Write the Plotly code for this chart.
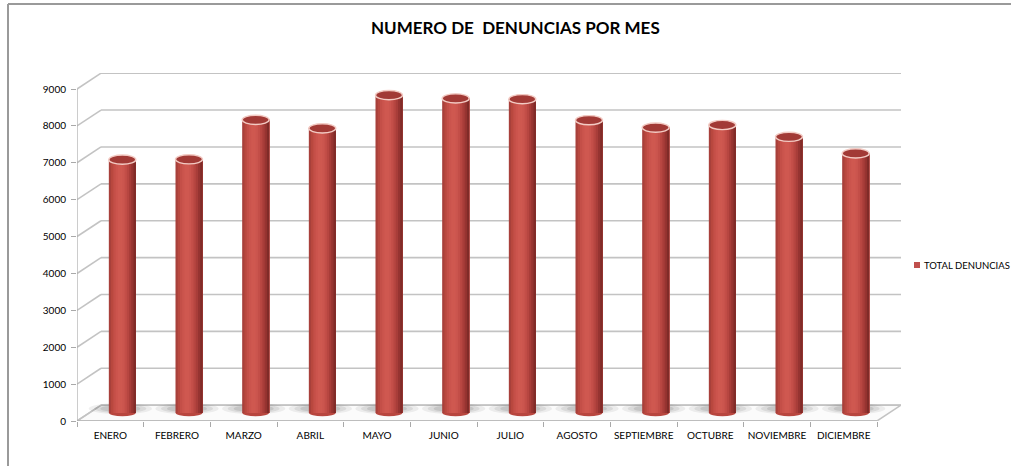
import plotly.graph_objects as go

# ---- data -------------------------------------------------------------
MESES = ["ENERO", "FEBRERO", "MARZO", "ABRIL", "MAYO", "JUNIO", "JULIO",
         "AGOSTO", "SEPTIEMBRE", "OCTUBRE", "NOVIEMBRE", "DICIEMBRE"]
TOTAL_DENUNCIAS = [6870, 6880, 7950, 7720, 8620, 8530, 8510,
                   7940, 7740, 7810, 7490, 7040]
Y_TICKS = [0, 1000, 2000, 3000, 4000, 5000, 6000, 7000, 8000, 9000]
SERIE = "TOTAL DENUNCIAS"
TITULO = "NUMERO DE\u00a0 DENUNCIAS POR MES"

# ---- page geometry ----------------------------------------------------
W, H = 1011, 466
ML, MR, MT, MB = 77, 110, 73, 45
PW, PH = W - ML - MR, H - MT - MB

# oblique depth of the pseudo-3D box (category units / value units)
DX = 0.36
DY = 430
BAR_W = 0.405          # cylinder diameter in category units

X_RANGE = [-0.5, len(MESES) - 0.5 + DX]
Y_RANGE = [0, 9000 + DY + 5]

GRID = "#c3c3c3"
FONT = "Lato, Carlito, Calibri, sans-serif"


def xp(px):
    return (px - ML) / PW


def yp(py):
    return (H - MB - py) / PH


# shades across the cylinder, left edge -> right edge
SHADES = ["#a8403b", "#b9483f", "#c44f48", "#cb544d", "#cf5850", "#cf5850",
          "#cb554e", "#c34e48", "#b74641", "#a83d39", "#963431", "#802b28"]

fig = go.Figure()

xs = list(range(len(MESES)))
n = len(SHADES)
sw = BAR_W / n
# each band starts further right and runs to the cylinder's right edge,
# so later bands cover earlier ones without leaving seams
for k in range(n):
    fig.add_trace(go.Bar(
        x=xs, y=TOTAL_DENUNCIAS, base=DY / 2,
        offset=DX / 2 - BAR_W / 2 + k * sw, width=BAR_W - k * sw,
        marker=dict(color=SHADES[k], line=dict(width=0)),
        name=SERIE, showlegend=False, hoverinfo="skip" if k != 5 else None,
    ))

shapes = []

# floor of the box
x0, x1 = X_RANGE[0], len(MESES) - 0.5
shapes.append(dict(
    type="path", xref="x", yref="y", layer="below",
    path=f"M {x0},0 L {x1},0 L {x1 + DX},{DY} L {x0 + DX},{DY} Z",
    fillcolor="#fbfbfb", line=dict(color=GRID, width=1.5)))

# back-wall gridlines and left-wall diagonals
for v in Y_TICKS:
    shapes.append(dict(type="line", xref="x", yref="y", layer="below",
                       x0=x0 + DX, x1=x1 + DX, y0=v + DY, y1=v + DY,
                       line=dict(color=GRID, width=1.6)))
    shapes.append(dict(type="line", xref="x", yref="y", layer="below",
                       x0=x0, x1=x0 + DX, y0=v, y1=v + DY,
                       line=dict(color=GRID, width=1.6)))

# soft shadows on the floor
for i in xs:
    cx = i + DX / 2 - 0.03
    cy = DY / 2 + 120
    for wdt, hgt, op in [(0.95, 300, 0.08), (0.78, 240, 0.10), (0.6, 180, 0.13)]:
        shapes.append(dict(type="circle", xref="x", yref="y", layer="below",
                           x0=cx - wdt / 2, x1=cx + wdt / 2,
                           y0=cy - hgt / 2, y1=cy + hgt / 2,
                           fillcolor=f"rgba(60,60,60,{op})", line=dict(width=0)))

# rounded bottoms of the cylinders
for i in xs:
    cx = i + DX / 2
    shapes.append(dict(type="circle", xref="x", yref="y", layer="between",
                       x0=cx - BAR_W / 2 + 0.004, x1=cx + BAR_W / 2 - 0.004,
                       y0=DY / 2 - 85, y1=DY / 2 + 85,
                       fillcolor="#b8463f", line=dict(width=0)))

# elliptical tops
for i, v in zip(xs, TOTAL_DENUNCIAS):
    cx = i + DX / 2
    top = v + DY / 2
    shapes.append(dict(type="circle", xref="x", yref="y", layer="above",
                       x0=cx - BAR_W / 2, x1=cx + BAR_W / 2,
                       y0=top - 125, y1=top + 125,
                       fillcolor="#a23a36", line=dict(color="#f3cbc4", width=1.4)))

# front value axis and front category axis
shapes.append(dict(type="line", xref="x", yref="y", layer="above",
                   x0=x0, x1=x0, y0=0, y1=Y_TICKS[-1],
                   line=dict(color="#a9a9a9", width=1.2)))
shapes.append(dict(type="line", xref="x", yref="y", layer="above",
                   x0=x0, x1=x1, y0=0, y1=0,
                   line=dict(color="#a9a9a9", width=1.2)))

# chart frame (top and left edges)
shapes.append(dict(type="line", xref="paper", yref="paper",
                   x0=xp(8), x1=xp(W + 5), y0=yp(4), y1=yp(4),
                   line=dict(color="#9a9a9a", width=2)))
shapes.append(dict(type="line", xref="paper", yref="paper",
                   x0=xp(8), x1=xp(8), y0=yp(4), y1=yp(H + 5),
                   line=dict(color="#9a9a9a", width=2)))

# legend key
shapes.append(dict(type="rect", xref="paper", yref="paper",
                   x0=xp(914), x1=xp(920), y0=yp(268), y1=yp(262),
                   fillcolor="#c0504d", line=dict(width=0)))

annotations = [
    dict(text=f"<b>{TITULO}</b>", xref="paper", yref="paper",
         x=xp(515), y=yp(28), xanchor="center", yanchor="middle",
         showarrow=False, font=dict(family=FONT, size=17, color="#000000")),
    dict(text=SERIE, xref="paper", yref="paper",
         x=xp(922), y=yp(265), xanchor="left", yanchor="middle",
         showarrow=False, font=dict(family=FONT, size=9.5, color="#000000")),
]

fig.update_layout(
    template="none",
    width=W, height=H,
    margin=dict(l=ML, r=MR, t=MT, b=MB, autoexpand=False),
    paper_bgcolor="white", plot_bgcolor="rgba(0,0,0,0)",
    barmode="overlay", showlegend=False,
    shapes=shapes, annotations=annotations,
    font=dict(family=FONT, size=10, color="#000000"),
    xaxis=dict(
        range=X_RANGE, showgrid=False, zeroline=False, showline=False,
        tickmode="array", tickvals=xs, ticktext=MESES,
        ticks="", ticklabelstandoff=7, automargin=False,
        tickfont=dict(family=FONT, size=10, color="#000000"),
        minor=dict(tickmode="array",
                   tickvals=[i - 0.5 for i in range(len(MESES) + 1)],
                   ticks="outside", ticklen=5, tickcolor="#a9a9a9", tickwidth=1,
                   showgrid=False),
    ),
    yaxis=dict(
        range=Y_RANGE, showgrid=False, zeroline=False, showline=False,
        tickmode="array", tickvals=Y_TICKS, ticks="outside", ticklen=5,
        tickcolor="#a9a9a9", ticklabelstandoff=3, automargin=False,
        tickfont=dict(family=FONT, size=10, color="#000000"),
    ),
)

fig.write_html("out.html")
